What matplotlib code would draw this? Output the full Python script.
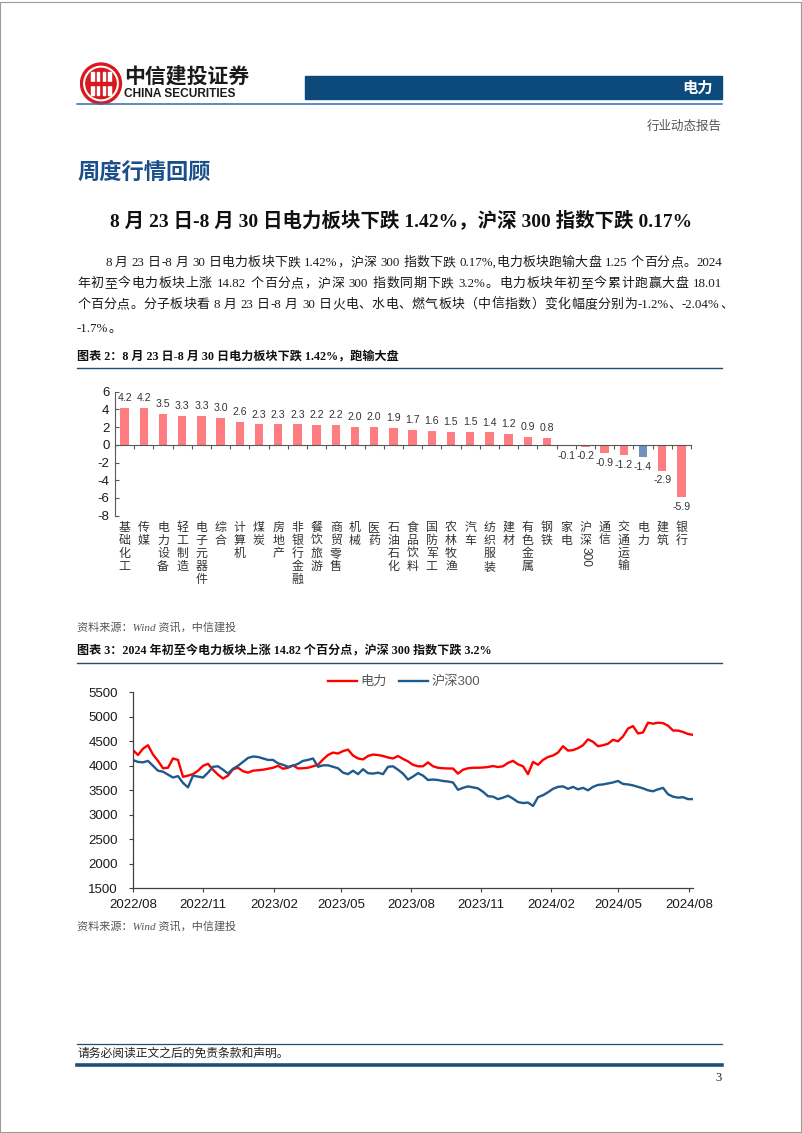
import numpy as np
import matplotlib
matplotlib.use("Agg")
import matplotlib.pyplot as plt
from matplotlib.patches import Rectangle, Circle
from matplotlib.lines import Line2D
from matplotlib.transforms import blended_transform_factory
from matplotlib.font_manager import FontProperties

W, H = 802, 1133

CJK = "Noto Sans CJK SC"
SANS = ["Liberation Sans", CJK]
SERIF = ["Liberation Serif", CJK]
plt.rcParams["font.family"] = SANS
plt.rcParams["axes.unicode_minus"] = False

NAVY = "#1F4E79"
PINK = "#FF7C80"
STEEL = "#6F93BC"

# 图表2：行业周涨跌幅（%）
sectors = ["基础化工", "传媒", "电力设备", "轻工制造", "电子元器件", "综合", "计算机",
           "煤炭", "房地产", "非银行金融", "餐饮旅游", "商贸零售", "机械", "医药",
           "石油石化", "食品饮料", "国防军工", "农林牧渔", "汽车", "纺织服装", "建材",
           "有色金属", "钢铁", "家电", "沪深300", "通信", "交通运输", "电力", "建筑", "银行"]
weekly_chg = [4.2, 4.2, 3.5, 3.3, 3.3, 3.0, 2.6, 2.3, 2.3, 2.3, 2.2, 2.2, 2.0, 2.0,
              1.9, 1.7, 1.6, 1.5, 1.5, 1.4, 1.2, 0.9, 0.8, -0.1, -0.2, -0.9, -1.2,
              -1.4, -2.9, -5.9]
highlight = "电力"

# 图表3：电力 vs 沪深300（指数点位，按图读取）
month_labels = ["2022/08", "2022/11", "2023/02", "2023/05", "2023/08",
                "2023/11", "2024/02", "2024/05", "2024/08"]
power_idx = [4320, 4220, 4350, 4420, 4230, 4100, 3950, 3960, 4150, 4120,
             3775, 3800, 3830, 3900, 4000, 4040, 3920, 3820, 3740, 3800,
             3930, 3960, 3890, 3860, 3900, 3910, 3920, 3940, 3960, 4000,
             3940, 3960, 4010, 3946, 3950, 3960, 3990, 4020, 4130, 4220,
             4270, 4250, 4300, 4330, 4210, 4150, 4130, 4200, 4230, 4220,
             4200, 4170, 4150, 4200, 4140, 4090, 4020, 3990, 3990, 4070,
             3990, 3960, 3950, 3945, 3945, 3840, 3920, 3950, 3960, 3960,
             3965, 3975, 3995, 3975, 3990, 4060, 4100, 4030, 3990, 3830,
             4080, 4020, 4120, 4180, 4210, 4270, 4400, 4310, 4320, 4360,
             4420, 4540, 4490, 4400, 4420, 4450, 4530, 4500, 4600, 4760,
             4810, 4660, 4680, 4880, 4860, 4880, 4870, 4820, 4720, 4720,
             4690, 4650, 4630]
hs300_idx = [4116, 4080, 4070, 4100, 4000, 3900, 3880, 3820, 3760, 3790,
             3650, 3560, 3800, 3780, 3760, 3860, 3980, 3990, 3920, 3840,
             3940, 4000, 4080, 4160, 4190, 4180, 4150, 4120, 4120, 4050,
             4020, 3980, 4000, 4040, 4100, 4120, 4150, 3980, 4010, 4010,
             3980, 3950, 3860, 3830, 3900, 3830, 3930, 3850, 3840, 3860,
             3830, 3980, 3990, 3920, 3840, 3720, 3780, 3850, 3800, 3710,
             3720, 3710, 3690, 3680, 3660, 3510, 3550, 3580, 3560, 3540,
             3470, 3380, 3370, 3320, 3350, 3390, 3330, 3260, 3240, 3250,
             3180, 3360, 3400, 3460, 3530, 3570, 3580, 3530, 3570, 3520,
             3550, 3500, 3570, 3610, 3620, 3640, 3660, 3690, 3630, 3620,
             3600, 3570, 3540, 3500, 3480, 3520, 3550, 3420, 3370, 3350,
             3360, 3320, 3320]
month_tick_pos = [0, 14, 28.2, 41.6, 55.6, 69.6, 83.6, 97, 111.2]

body_lines = [
    "8 月 23 日-8 月 30 日电力板块下跌 1.42%，沪深 300 指数下跌 0.17%,电力板块跑输大盘 1.25 个百分点。2024",
    "年初至今电力板块上涨 14.82 个百分点，沪深 300 指数同期下跌 3.2%。电力板块年初至今累计跑赢大盘 18.01",
    "个百分点。分子板块看 8 月 23 日-8 月 30 日火电、水电、燃气板块（中信指数）变化幅度分别为-1.2%、-2.04%、",
    "-1.7%。",
]


def fx(x):
    return x / W


def fy(y):
    return 1 - y / H


def rect(l, t, r, b):
    return [l / W, 1 - b / H, (r - l) / W, (b - t) / H]


def hline(fig, x0, x1, y, color, lw):
    fig.add_artist(Line2D([fx(x0), fx(x1)], [fy(y), fy(y)], transform=fig.transFigure,
                          color=color, lw=lw))


def split_units(s):
    units, tok = [], ""
    for ch in s:
        if ch == " ":
            if tok:
                units.append(tok)
                tok = ""
            units.append(" ")
        elif ord(ch) < 128:
            tok += ch
        else:
            if tok:
                units.append(tok)
                tok = ""
            units.append(ch)
    if tok:
        units.append(tok)
    return units


def justified(fig, x0, x1, y, s, size, stretch=True):
    rend = fig.canvas.get_renderer()
    prop = FontProperties(family=SERIF, size=size)
    em = size * 100 / 72
    units = split_units(s)
    widths = []
    for u in units:
        if u == " ":
            widths.append(0.25 * em)
        elif ord(u[0]) >= 128:
            widths.append(em)
        else:
            widths.append(rend.get_text_width_height_descent(u, prop, ismath=False)[0])
    gap = 0.0
    if stretch:
        gap = (x1 - x0 - sum(widths)) / (len(units) - 1)
    x = x0
    for u, w in zip(units, widths):
        if u != " ":
            if ord(u[0]) >= 128:
                fig.text(fx(x + w / 2), fy(y), u, ha="center", va="baseline",
                         fontproperties=prop, color="#1a1a1a")
            else:
                fig.text(fx(x), fy(y), u, ha="left", va="baseline",
                         fontproperties=prop, color="#1a1a1a")
        x += w + gap


fig = plt.figure(figsize=(W / 100, H / 100), dpi=100)
fig.patch.set_facecolor("white")
fig.canvas.draw()

# page frame
fig.add_artist(Rectangle((0.0005, 0.0005), 0.998, 0.998, transform=fig.transFigure,
                         fill=False, edgecolor="#9a9a9a", lw=0.8))

# ---- header ----
lax = fig.add_axes(rect(79, 62, 123, 105))
lax.set_xlim(-1.05, 1.05)
lax.set_ylim(-1.05, 1.05)
lax.set_aspect("equal")
lax.axis("off")
lax.add_patch(Circle((0, 0), 1.0, color="#D7191F"))
lax.add_patch(Circle((0, 0), 0.84, color="white"))
lax.add_patch(Circle((0, 0), 0.74, color="#D7191F"))
for xb in (-0.42, -0.14, 0.14, 0.42):
    lax.add_patch(Rectangle((xb - 0.06, -0.55), 0.12, 1.1, color="white"))
lax.add_patch(Rectangle((-0.6, -0.06), 1.2, 0.12, color="#D7191F"))

fig.text(fx(124), fy(76), "中信建投证券", ha="left", va="center", fontsize=15,
         fontweight="bold", family=CJK, color="#1a1a1a")
fig.text(fx(124), fy(94), "CHINA SECURITIES", ha="left", va="center", fontsize=8.6,
         fontweight="bold", family="Liberation Sans", color="#1a1a1a")

fig.add_artist(Rectangle((fx(305), fy(99)), fx(722) - fx(305), fy(76) - fy(99),
                         transform=fig.transFigure, color="#0D4A7C"))
fig.text(fx(713), fy(88), "电力", ha="right", va="center", fontsize=11,
         fontweight="bold", family=CJK, color="white")
hline(fig, 77, 722, 104, "#2F6EA5", 1.1)
fig.text(fx(722), fy(127), "行业动态报告", ha="right", va="center", fontsize=9,
         family=SERIF, color="#555555")

# ---- section text ----
fig.text(fx(77), fy(172), "周度行情回顾", ha="left", va="center", fontsize=16,
         fontweight="bold", family=CJK, color="#1B4F8A")
fig.text(fx(401), fy(220), "8 月 23 日-8 月 30 日电力板块下跌 1.42%，沪深 300 指数下跌 0.17%",
         ha="center", va="center", fontsize=14, fontweight="bold", family=SERIF,
         color="#111111")

justified(fig, 105, 722, 266, body_lines[0], 9.3)
justified(fig, 77, 722, 287, body_lines[1], 9.3)
justified(fig, 77, 733, 308, body_lines[2], 9.3)
justified(fig, 77, 722, 332, body_lines[3], 9.3, stretch=False)

# ---- 图表2 ----
fig.text(fx(77), fy(357), "图表 2：8 月 23 日-8 月 30 日电力板块下跌 1.42%，跑输大盘",
         ha="left", va="center", fontsize=8.7, fontweight="bold", family=SERIF,
         color="#111111")
hline(fig, 77, 722, 368, NAVY, 1.0)

ax = fig.add_axes(rect(115, 391.7, 691, 515.7))
xpos = np.arange(len(sectors))
bar_colors = [STEEL if s == highlight else PINK for s in sectors]
ax.bar(xpos, weekly_chg, width=0.43, color=bar_colors)
ax.set_xlim(-0.5, len(sectors) - 0.5)
ax.set_ylim(-8, 6)
ax.set_yticks(range(-8, 7, 2))
for sp in ("top", "right"):
    ax.spines[sp].set_visible(False)
ax.spines["bottom"].set_position(("data", 0))
for sp in ("left", "bottom"):
    ax.spines[sp].set_color("#595959")
    ax.spines[sp].set_linewidth(0.8)
ax.set_xticks(np.arange(-0.5, len(sectors), 1))
ax.tick_params(axis="x", direction="out", length=3, color="#595959", labelbottom=False)
ax.tick_params(axis="y", direction="in", length=3, color="#595959", labelsize=9.5,
               labelcolor="#1a1a1a", pad=4)
for i, v in enumerate(weekly_chg):
    off = 3.5 if v >= 0 else -3.5
    ax.annotate(f"{v:.1f}", (i, v), xytext=(0, off), textcoords="offset points",
                ha="center", va="bottom" if v >= 0 else "top", fontsize=7.6,
                color="#333333", family="Liberation Sans")
trans = blended_transform_factory(ax.transData, fig.transFigure)
for i, name in enumerate(sectors):
    if name.endswith("300"):
        ax.text(i, fy(521), "\n".join(name[:-3]), transform=trans, ha="center", va="top",
                fontsize=8.6, family=CJK, color="#333333", linespacing=1.0, clip_on=False)
        ax.text(i, fy(557), name[-3:], transform=trans, ha="center", va="center",
                rotation=-90, fontsize=8.6, family="Liberation Sans", color="#333333",
                clip_on=False)
    else:
        ax.text(i, fy(521), "\n".join(name), transform=trans, ha="center", va="top",
                fontsize=8.6, family=CJK, color="#333333", linespacing=1.0, clip_on=False)

fig.text(fx(77), fy(627), "资料来源：Wind 资讯，中信建投", ha="left", va="center",
         fontsize=8, style="italic", family=SERIF, color="#555555")

# ---- 图表3 ----
fig.text(fx(77), fy(651), "图表 3：2024 年初至今电力板块上涨 14.82 个百分点，沪深 300 指数下跌 3.2%",
         ha="left", va="center", fontsize=8.7, fontweight="bold", family=SERIF,
         color="#111111")
hline(fig, 77, 722, 663, NAVY, 1.0)

bx = fig.add_axes(rect(133, 692.3, 693, 888.3))
t = np.arange(len(power_idx))
bx.plot(t, power_idx, color="#FF0000", lw=1.7, label="电力")
bx.plot(t, hs300_idx, color="#1F5A8C", lw=1.7, label="沪深300")
bx.set_xlim(0, len(power_idx) - 1)
bx.set_ylim(1500, 5500)
bx.set_yticks(range(1500, 5501, 500))
bx.set_xticks(month_tick_pos)
bx.set_xticklabels(month_labels)
for sp in ("top", "right"):
    bx.spines[sp].set_visible(False)
for sp in ("left", "bottom"):
    bx.spines[sp].set_color("#404040")
    bx.spines[sp].set_linewidth(0.9)
bx.tick_params(axis="both", direction="out", length=3, color="#404040", labelsize=9.5,
               labelcolor="#1a1a1a")
bx.tick_params(axis="y", pad=8)
bx.tick_params(axis="x", pad=5)
bx.legend(loc="center", bbox_to_anchor=(fx(404), fy(682)), bbox_transform=fig.transFigure,
          ncol=2, frameon=False, handlelength=2.2, handletextpad=0.3, columnspacing=0.9,
          fontsize=9.5, labelcolor="#595959")

fig.text(fx(77), fy(926), "资料来源：Wind 资讯，中信建投", ha="left", va="center",
         fontsize=8, style="italic", family=SERIF, color="#555555")

# ---- footer ----
hline(fig, 77, 722, 1044, NAVY, 0.9)
fig.text(fx(77), fy(1054), "请务必阅读正文之后的免责条款和声明。", ha="left", va="center",
         fontsize=8.5, family=SERIF, color="#222222")
hline(fig, 77, 722, 1065, NAVY, 2.6)
fig.text(fx(722), fy(1078), "3", ha="right", va="center", fontsize=9, family=SERIF,
         color="#222222")

fig.savefig("out.png", dpi=100)
